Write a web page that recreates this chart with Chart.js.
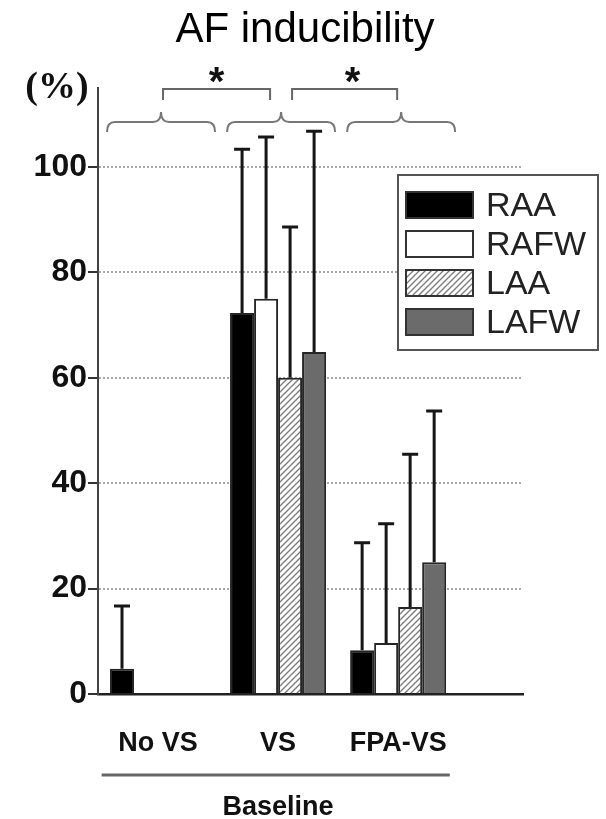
<!DOCTYPE html>
<html>
<head>
<meta charset="utf-8">
<script src="https://cdn.jsdelivr.net/npm/chart.js@4.4.0/dist/chart.umd.min.js"></script>
<style>
  html, body { margin: 0; padding: 0; background: #fff; }
  canvas { display: block; }
</style>
</head>
<body>
<canvas id="myChart" width="606" height="819"></canvas>
<script>
var categories = ['No VS', 'VS', 'FPA-VS'];
var seriesNames = ['RAA', 'RAFW', 'LAA', 'LAFW'];

// mean and SD (%) per group
var raa = [4.8, 72.3, 8.3];
var raaSd = [11.9, 31.1, 20.4];
var rafw = [0, 75, 9.7];
var rafwSd = [0, 30.7, 22.6];
var laa = [0, 60, 16.5];
var laaSd = [0, 28.6, 29];
var lafw = [0, 64.9, 25];
var lafwSd = [0, 41.9, 28.7];

var yTicks = [0, 20, 40, 60, 80, 100];
var sigPairs = [[0, 1], [1, 2]];
var chartTitle = 'AF inducibility';
var groupTitle = 'Baseline';
var unitLabel = '(%)';

var ctx = document.getElementById('myChart');
var g2d = ctx.getContext('2d');

Chart.defaults.font.family = "'Liberation Sans', Arial, sans-serif";

function hatch() {
  var c = document.createElement('canvas');
  c.width = 6; c.height = 6;
  var g = c.getContext('2d');
  g.fillStyle = '#fff';
  g.fillRect(0, 0, 6, 6);
  g.strokeStyle = '#7a7a7a';
  g.lineWidth = 1.3;
  g.beginPath();
  g.moveTo(0, 6); g.lineTo(6, 0);
  g.moveTo(-1, 1); g.lineTo(1, -1);
  g.moveTo(5, 7); g.lineTo(7, 5);
  g.stroke();
  return g2d.createPattern(c, 'repeat');
}

var fills = ['#000000', '#ffffff', hatch(), '#6b6b6b'];
var values = [raa, rafw, laa, lafw];
var sds = [raaSd, rafwSd, laaSd, lafwSd];

var datasets = seriesNames.map(function (name, k) {
  return {
    label: name,
    data: values[k].map(function (v, i) { return { x: i, y: v }; }),
    sd: sds[k],
    backgroundColor: fills[k],
    borderColor: '#262626',
    borderWidth: 2
  };
});

// title, error bars, braces, brackets, stars, legend
var extras = {
  id: 'extras',
  afterDatasetsDraw: function (chart) {
    var c = chart.ctx, y = chart.scales.y;
    c.save();
    c.strokeStyle = '#161616';
    c.lineWidth = 3;
    chart.data.datasets.forEach(function (ds, k) {
      chart.getDatasetMeta(k).data.forEach(function (bar, i) {
        var sd = ds.sd[i];
        if (!sd) return;
        var top = y.getPixelForValue(ds.data[i].y + sd);
        c.beginPath();
        c.moveTo(bar.x, bar.y);
        c.lineTo(bar.x, top);
        c.moveTo(bar.x - 8, top);
        c.lineTo(bar.x + 8, top);
        c.stroke();
      });
    });
    c.restore();
  },
  afterDraw: function (chart) {
    var c = chart.ctx, x = chart.scales.x, a = chart.chartArea;
    c.save();

    c.fillStyle = '#000';
    c.font = "42px 'Liberation Sans', Arial, sans-serif";
    c.textAlign = 'center';
    c.textBaseline = 'alphabetic';
    c.fillText(chartTitle, 305, 42);

    // unit label
    c.fillStyle = '#111';
    c.font = "bold 38px 'Liberation Serif', serif";
    c.textBaseline = 'middle';
    c.fillText(unitLabel, 57, a.top);

    // braces over each group
    c.strokeStyle = '#777';
    c.lineWidth = 2;
    var yb = a.top + 34, ye = a.top + 44, yp = a.top + 24, r = 8;
    categories.forEach(function (cat, i) {
      var xm = x.getPixelForValue(i) + 3, x1 = xm - 54, x2 = xm + 54;
      c.beginPath();
      c.moveTo(x1, ye);
      c.quadraticCurveTo(x1, yb, x1 + r, yb);
      c.lineTo(xm - r, yb);
      c.quadraticCurveTo(xm, yb, xm, yp);
      c.quadraticCurveTo(xm, yb, xm + r, yb);
      c.lineTo(x2 - r, yb);
      c.quadraticCurveTo(x2, yb, x2, ye);
      c.stroke();
    });

    // significance brackets
    c.strokeStyle = '#666';
    c.fillStyle = '#111';
    c.font = "bold 40px 'Liberation Sans', Arial, sans-serif";
    c.textBaseline = 'alphabetic';
    sigPairs.forEach(function (p, n) {
      var x1 = x.getPixelForValue(p[0]) + (n ? 14 : 5);
      var x2 = x.getPixelForValue(p[1]) - (n ? 1 : 8);
      var yt = a.top + 1;
      c.beginPath();
      c.moveTo(x1, yt + 11);
      c.lineTo(x1, yt);
      c.lineTo(x2, yt);
      c.lineTo(x2, yt + 11);
      c.stroke();
      c.fillText('*', (x1 + x2) / 2 + (n ? 8 : 0), yt + 6);
    });

    // group underline and title
    c.strokeStyle = '#666';
    c.lineWidth = 3;
    c.beginPath();
    c.moveTo(x.getPixelForValue(-0.47), 775);
    c.lineTo(x.getPixelForValue(2.43), 775);
    c.stroke();
    c.font = "bold 27px 'Liberation Sans', Arial, sans-serif";
    c.textBaseline = 'middle';
    c.fillText(groupTitle, x.getPixelForValue(1), 808);

    // legend box
    var lx = 398, ly = 175, lw = 200, lh = 175;
    c.fillStyle = '#fff';
    c.fillRect(lx, ly, lw, lh);
    c.strokeStyle = '#555';
    c.lineWidth = 2;
    c.strokeRect(lx, ly, lw, lh);
    c.font = "34px 'Liberation Sans', Arial, sans-serif";
    c.textAlign = 'left';
    chart.data.datasets.forEach(function (ds, k) {
      var sy = ly + 17 + k * 39;
      c.fillStyle = ds.backgroundColor;
      c.fillRect(lx + 8, sy, 67, 26);
      c.strokeStyle = '#333';
      c.strokeRect(lx + 8, sy, 67, 26);
      c.fillStyle = '#222';
      c.fillText(ds.label, lx + 88, sy + 15);
    });
    c.restore();
  }
};

var myChart = new Chart(ctx, {
  type: 'bar',
  data: { datasets: datasets },
  options: {
    responsive: false,
    animation: false,
    devicePixelRatio: 1,
    categoryPercentage: 0.8,
    barPercentage: 1,
    layout: { padding: { left: 0, right: 83, top: 88, bottom: 0 } },
    plugins: {
      legend: { display: false },
      tooltip: { enabled: false },
      title: { display: false }
    },
    scales: {
      x: {
        type: 'linear',
        offset: false,
        min: -0.5,
        max: 3.04,
        afterBuildTicks: function (s) {
          s.ticks = categories.map(function (c, i) { return { value: i }; });
        },
        afterFit: function (s) { s.height = 125; },
        ticks: {
          callback: function (v) { return categories[v]; },
          autoSkip: false,
          maxRotation: 0,
          color: '#111',
          padding: 33,
          font: { size: 27, weight: 'bold' }
        },
        grid: { display: false, drawTicks: false, offset: false },
        border: { color: '#222', width: 2.5 }
      },
      y: {
        min: 0,
        max: 115,
        afterBuildTicks: function (s) {
          s.ticks = yTicks.map(function (v) { return { value: v }; });
        },
        afterFit: function (s) { s.width = 98; },
        ticks: {
          color: '#111',
          padding: 1,
          font: { size: 32, weight: 'bold' }
        },
        grid: {
          color: function (c) {
            return c.tick && c.tick.value === 0 ? 'rgba(0,0,0,0)' : '#a8a8a8';
          },
          lineWidth: 2,
          tickColor: '#333',
          tickLength: 10,
          tickWidth: 2
        },
        border: { color: '#444', width: 2, dash: [2, 2] }
      }
    }
  },
  plugins: [extras]
});
</script>
</body>
</html>
